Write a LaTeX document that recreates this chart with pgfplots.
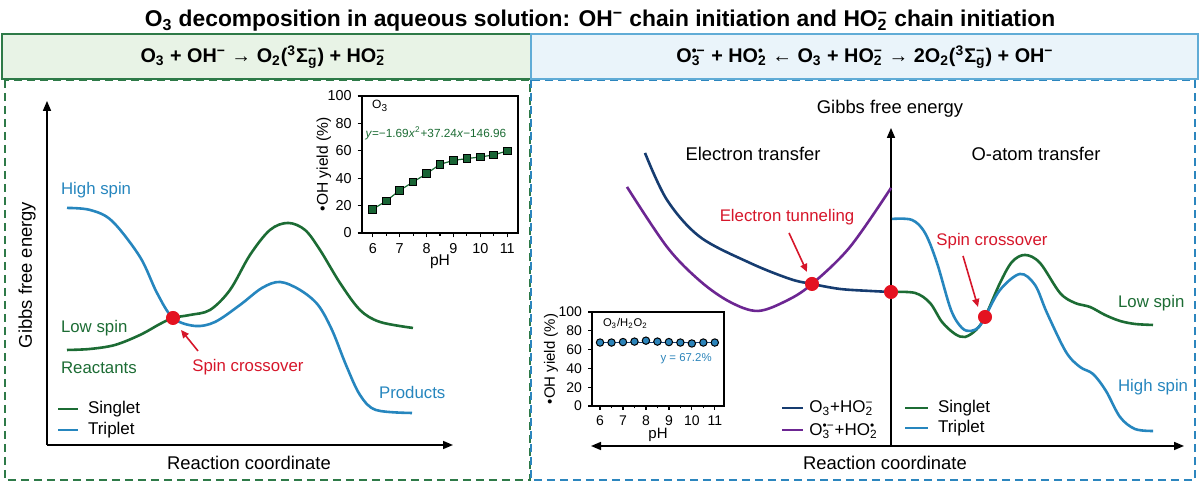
\documentclass[border=0pt]{standalone}
\usepackage{fontspec}
\setmainfont{Liberation Sans}
\usepackage{pgfplots}
\pgfplotsset{compat=1.18}
\usetikzlibrary{arrows.meta}

\definecolor{cgreen}{RGB}{28,108,52}
\definecolor{cblue}{RGB}{38,134,190}
\definecolor{cnavy}{RGB}{22,60,112}
\definecolor{cpurple}{RGB}{108,38,146}
\definecolor{cred}{RGB}{228,18,32}
\definecolor{tred}{RGB}{214,22,42}
\definecolor{framegreen}{RGB}{46,122,72}
\definecolor{frameblue}{RGB}{44,134,190}
\definecolor{headgreen}{RGB}{232,243,230}
\definecolor{headblue}{RGB}{234,244,250}
\definecolor{headblueline}{RGB}{96,172,214}
\definecolor{sqgreen}{RGB}{24,100,52}
\definecolor{circblue}{RGB}{44,132,186}

\newcommand\fs[1]{\fontsize{#1}{#1}\selectfont}
% superscript stacked over a subscript
\newcommand\SupSub[2]{\setbox0\hbox{\textsuperscript{#1}}\setbox2\hbox{\textsubscript{#2}}%
  \ifdim\wd0>\wd2\relax\rlap{\box2}\box0\relax\else\rlap{\box0}\box2\relax\fi}

\begin{document}
\begin{tikzpicture}
\begin{axis}[at={(0,0)},anchor=south west,scale only axis,width=600pt,height=242.5pt,
  xmin=0,xmax=1200,ymin=0,ymax=485,y dir=reverse,hide axis,clip=false]

% panel frames
\draw[framegreen,line width=1pt,dash pattern=on 4pt off 2.5pt] (5,80) rectangle (530,480);
\draw[frameblue,line width=1pt,dash pattern=on 4pt off 2.5pt] (531,80) rectangle (1195,480);
\draw[framegreen,fill=headgreen,line width=0.9pt] (2,34) rectangle (531,79);
\draw[headblueline,fill=headblue,line width=0.9pt] (531,34) rectangle (1198,79);

% title and panel headers
\node[font=\bfseries\fs{11.4}] at (600,21) {O\textsubscript{3} decomposition in aqueous solution: OH\textsuperscript{−} chain initiation and HO\SupSub{−}{2} chain initiation};
\node[font=\bfseries\fs{9.9}] at (263,57) {O\textsubscript{3} + OH\textsuperscript{−} → O\textsubscript{2}(\textsuperscript{3}Σ\SupSub{−}{g}) + HO\SupSub{−}{2}};
\node[font=\bfseries\fs{9.9}] at (865,57) {O\SupSub{•−}{3} + HO\SupSub{•}{2} ← O\textsubscript{3} + HO\SupSub{−}{2} → 2O\textsubscript{2}(\textsuperscript{3}Σ\SupSub{−}{g}) + OH\textsuperscript{−}};

% left energy diagram: axes
\draw[line width=0.8pt,-{Triangle[length=5pt,width=4pt]}] (47,445) -- (47,101);
\draw[line width=0.8pt,-{Triangle[length=5pt,width=4pt]}] (47,445) -- (453,445);
\node[font=\fs{9.2},rotate=90] at (27,275) {Gibbs free energy};
\node[font=\fs{9.2}] at (249,463) {Reaction coordinate};

% singlet and triplet surfaces
\addplot[cgreen,line width=1.3pt,smooth,tension=0.55] coordinates {
 (67,350) (90,349) (115,345) (140,335) (160,324) (173,318) (190,315) (210,310)
 (230,290) (250,255) (270,230) (288,223) (305,230) (320,250) (340,283) (360,310)
 (380,322) (413,328)};
\addplot[cblue,line width=1.3pt,smooth,tension=0.55] coordinates {
 (67,208) (90,210) (112,221) (140,257) (157,293) (173,318) (195,326) (215,322)
 (240,305) (262,288) (280,282) (300,290) (318,305) (332,330) (346,365) (360,395)
 (376,410) (412,413)};

\node[cblue,font=\fs{8.4},anchor=west] at (54,190) {High spin};
\node[cgreen,font=\fs{8.4},anchor=west] at (54,328) {Low spin};
\node[cgreen,font=\fs{8.4},anchor=west] at (54,368) {Reactants};
\node[tred,font=\fs{8.4}] at (248,367) {Spin crossover};
\node[cblue,font=\fs{8.4},anchor=west] at (372,393) {Products};
\draw[tred,line width=0.8pt,-{Triangle[length=4pt,width=3.5pt]}] (198,351) -- (181,330);

% left legend
\draw[cgreen,line width=1.3pt] (58,409) -- (78,409);
\draw[cblue,line width=1.3pt] (58,430) -- (78,430);
\node[font=\fs{8.5},anchor=west] at (81,409) {Singlet};
\node[font=\fs{8.5},anchor=west] at (81,430) {Triplet};

% right energy diagram: axes
\draw[line width=0.8pt,-{Triangle[length=5pt,width=4pt]}] (891,446) -- (891,128);
\draw[line width=0.8pt,{Triangle[length=5pt,width=4pt]}-{Triangle[length=5pt,width=4pt]}] (591,446) -- (1184,446);
\node[font=\fs{9.2}] at (890,109) {Gibbs free energy};
\node[font=\fs{9.2}] at (885,463) {Reaction coordinate};
\node[font=\fs{9.2}] at (753,154) {Electron transfer};
\node[font=\fs{9.2}] at (1036,154) {O-atom transfer};

% electron transfer surfaces
\addplot[cnavy,line width=1.3pt,smooth,tension=0.55] coordinates {
 (645,153) (667,200) (700,237) (750,263) (790,279) (812,284) (840,289) (870,291) (891,292)};
\addplot[cpurple,line width=1.3pt,smooth,tension=0.55] coordinates {
 (627,187) (667,247) (700,281) (730,302) (758,311) (788,300) (812,284) (850,247) (891,188)};

% O-atom transfer surfaces
\addplot[cgreen,line width=1.3pt,smooth,tension=0.55] coordinates {
 (891,292) (915,293) (930,303) (942,322) (955,334) (965,337) (976,330) (985,317)
 (1000,283) (1012,262) (1025,255) (1040,263) (1060,293) (1075,303) (1090,307)
 (1105,315) (1120,321) (1135,324) (1153,325)};
\addplot[cblue,line width=1.3pt,smooth,tension=0.55] coordinates {
 (892,219) (912,220) (925,233) (937,263) (951,310) (962,328) (971,331) (979,327)
 (985,317) (1000,290) (1020,274) (1035,285) (1047,313) (1066,352) (1080,367)
 (1093,374) (1106,391) (1120,417) (1135,429) (1153,431)};

\node[tred,font=\fs{8.4}] at (787,217) {Electron tunneling};
\node[tred,font=\fs{8.4}] at (992,241) {Spin crossover};
\draw[tred,line width=0.8pt,-{Triangle[length=4pt,width=3.5pt]}] (789,233) -- (807,272);
\draw[tred,line width=0.8pt,-{Triangle[length=4pt,width=3.5pt]}] (963,256) -- (978,307);
\node[cgreen,font=\fs{8.4},anchor=west] at (1111,303) {Low spin};
\node[cblue,font=\fs{8.4},anchor=west] at (1111,387) {High spin};

% right legends
\draw[cnavy,line width=1.3pt] (782,408) -- (803,408);
\draw[cpurple,line width=1.3pt] (782,430) -- (803,430);
\node[font=\fs{8.5},anchor=west,inner sep=1pt] at (807,408) {O\textsubscript{3}+HO\SupSub{−}{2}};
\node[font=\fs{8.5},anchor=west,inner sep=1pt] at (807,431) {O\SupSub{•−}{3}+HO\SupSub{•}{2}};
\draw[cgreen,line width=1.3pt] (905,408) -- (928,408);
\draw[cblue,line width=1.3pt] (905,428) -- (928,428);
\node[font=\fs{8.5},anchor=west] at (931,408) {Singlet};
\node[font=\fs{8.5},anchor=west] at (931,428) {Triplet};

% crossing points
\addplot[only marks,mark=*,mark size=3.3pt,color=cred] coordinates {(173,318) (812,284) (891,292) (985,317)};
\end{axis}

% inset: O3 alone
\begin{axis}[at={(181pt,126pt)},anchor=south west,scale only axis,width=78pt,height=68.5pt,
  xmin=5.6,xmax=11.4,ymin=0,ymax=100,xtick={6,...,11},ytick={0,20,...,100},
  minor xtick={6.5,7.5,...,10.5},tick align=outside,tick pos=left,
  major tick length=2.2pt,minor tick length=1.3pt,
  tick label style={font=\fs{7.2}},/pgf/number format/assume math mode=true,
  every tick/.style={black,line width=0.6pt},axis line style={line width=0.6pt},
  xlabel={pH},ylabel={•OH yield (\%)},label style={font=\fs{7.8}},
  xlabel style={at={(axis description cs:0.5,-0.21)},anchor=center},
  ylabel style={at={(axis description cs:-0.245,0.5)},anchor=center},
  xticklabel style={yshift=0.5pt},yticklabel style={xshift=0.5pt}]
\addplot[cgreen,line width=0.6pt,mark=square*,mark size=1.9pt,
  mark options={fill=sqgreen,draw=black,line width=0.5pt}] coordinates {
  (6,17.3) (6.5,23.4) (7,31.1) (7.5,37.2) (8,43.3) (8.5,50.1) (9,53.0)
  (9.5,54.3) (10,55.5) (10.5,57.0) (11,59.9)};
\node[font=\fs{6},anchor=west] at (axis description cs:0.02,0.93) {O\textsubscript{3}};
\node[cgreen,font=\fs{5.9},anchor=east] at (axis description cs:0.97,0.73)
  {\textit{y}=−1.69\textit{x}\textsuperscript{2}+37.24\textit{x}−146.96};
\end{axis}

% inset: O3/H2O2
\begin{axis}[at={(296pt,39.5pt)},anchor=south west,scale only axis,width=66pt,height=47pt,
  xmin=5.65,xmax=11.4,ymin=0,ymax=100,xtick={6,...,11},ytick={0,20,...,100},
  minor xtick={6.5,7.5,...,10.5},tick align=outside,tick pos=left,
  major tick length=2pt,minor tick length=1.2pt,
  tick label style={font=\fs{7}},/pgf/number format/assume math mode=true,
  every tick/.style={black,line width=0.6pt},axis line style={line width=0.6pt},
  xlabel={pH},ylabel={•OH yield (\%)},label style={font=\fs{7.5}},
  xlabel style={at={(axis description cs:0.5,-0.31)},anchor=center},
  ylabel style={at={(axis description cs:-0.31,0.5)},anchor=center},
  xticklabel style={yshift=0.5pt},yticklabel style={xshift=0.5pt}]
\addplot[only marks,mark=*,mark size=1.85pt,
  mark options={fill=circblue,draw=black,line width=0.5pt}] coordinates {
  (6,67.5) (6.5,67.5) (7,68) (7.5,68.5) (8,69.5) (8.5,68.5) (9,68)
  (9.5,67.5) (10,66.5) (10.5,67.5) (11,67.5)};
\addplot[cnavy,line width=0.6pt] coordinates {(6,67.2) (11,67.2)};
\node[font=\fs{5.6},anchor=west] at (axis description cs:0.03,0.88) {O\textsubscript{3}/H\textsubscript{2}O\textsubscript{2}};
\node[circblue,font=\fs{5.7},anchor=east] at (axis description cs:0.96,0.50) {y = 67.2\%};
\end{axis}

\pgfresetboundingbox
\useasboundingbox (0,0) rectangle (600pt,242.5pt);
\end{tikzpicture}
\end{document}
